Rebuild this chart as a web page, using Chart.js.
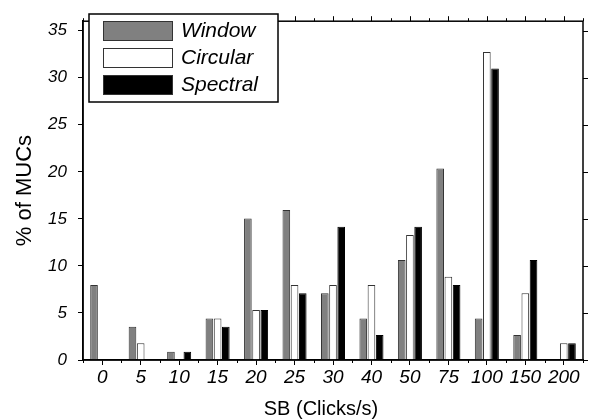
<!DOCTYPE html>
<html>
<head>
<meta charset="utf-8">
<script src="https://cdn.jsdelivr.net/npm/chart.js@4"></script>
<style>
  html, body { margin: 0; padding: 0; background: #fff; }
  #wrap { width: 594px; height: 419px; }
</style>
</head>
<body>
<div id="wrap"><canvas id="mucChart" width="594" height="419"></canvas></div>
<script>
    // SB rate categories (Clicks/s)
    const categories = ['0', '5', '10', '15', '20', '25', '30', '40', '50', '75', '100', '150', '200'];
    // % of MUCs per estimator
    const windowVals   = [7.96, 3.54, 0.88, 4.42, 15.04, 15.93, 7.08, 4.42, 10.62, 20.35, 4.42, 2.65, 0];
    const circularVals = [0, 1.77, 0, 4.42, 5.31, 7.96, 7.96, 7.96, 13.27, 8.85, 32.74, 7.08, 1.77];
    const spectralVals = [0, 0, 0.88, 3.54, 5.31, 7.08, 14.16, 2.65, 14.16, 7.96, 30.97, 10.62, 1.77];
    const yTicks = [0, 5, 10, 15, 20, 25, 30, 35];
    const xTitle = 'SB (Clicks/s)';

    const FONT = "'Liberation Sans', Arial, Helvetica, sans-serif";
    const ctx = document.getElementById('mucChart').getContext('2d');

    // draws the box frame, the top/right mirror ticks, the minor x ticks, x title and the inset legend
    const framePlugin = {
      id: 'frame',
      afterDraw(chart) {
        const c = chart.ctx;
        const a = chart.chartArea;
        const xs = chart.scales.x;
        const ys = chart.scales.y;
        const n = categories.length;
        c.save();
        c.strokeStyle = '#000';
        c.lineWidth = 1;
        c.beginPath();
        for (let i = 0; i < n; i++) {
          const px = Math.round(xs.getPixelForValue(i)) + 0.5;
          c.moveTo(px, a.top); c.lineTo(px, a.top - 5);
        }
        for (let i = 0; i <= n; i++) {
          const px = Math.round(xs.getPixelForValue(i - 0.5)) + 0.5;
          c.moveTo(px, a.top); c.lineTo(px, a.top - 3);
          c.moveTo(px, a.bottom); c.lineTo(px, a.bottom + 3);
        }
        yTicks.forEach(v => {
          const py = Math.round(ys.getPixelForValue(v)) + 0.5;
          c.moveTo(a.right, py); c.lineTo(a.right + 5, py);
        });
        c.stroke();

        c.lineWidth = 1.5;
        c.strokeRect(a.left, a.top, a.right - a.left, a.bottom - a.top);

        // x axis title, sits a little left of the plot centre
        c.fillStyle = '#000';
        c.font = '20px ' + FONT;
        c.textAlign = 'center';
        c.textBaseline = 'alphabetic';
        c.fillText(xTitle, 321, 415);

        // legend box
        const lx = 89, ly = 14, lw = 189, lh = 88;
        c.fillStyle = '#fff';
        c.fillRect(lx, ly, lw, lh);
        c.lineWidth = 1.5;
        c.strokeRect(lx, ly, lw, lh);
        chart.data.datasets.forEach((ds, i) => {
          const ry = 21 + i * 27;
          c.fillStyle = ds.backgroundColor;
          c.fillRect(103, ry, 70, 20);
          c.lineWidth = 1;
          c.strokeStyle = '#333';
          c.strokeRect(103.5, ry + 0.5, 69, 19);
          c.fillStyle = '#000';
          c.font = 'italic 21px ' + FONT;
          c.textBaseline = 'middle';
          c.textAlign = 'left';
          c.fillText(ds.label, 181, ry + 10);
        });
        c.restore();
      }
    };

    const chart = new Chart(ctx, {
      type: 'bar',
      data: {
        labels: categories,
        datasets: [
          { label: 'Window', data: windowVals, backgroundColor: '#808080', borderColor: '#333', borderWidth: 1 },
          { label: 'Circular', data: circularVals, backgroundColor: '#ffffff', borderColor: '#333', borderWidth: 1 },
          { label: 'Spectral', data: spectralVals, backgroundColor: '#000000', borderColor: '#000', borderWidth: 1 }
        ]
      },
      options: {
        responsive: false,
        animation: false,
        layout: { padding: { top: 10, right: 11, left: 0, bottom: 0 } },
        datasets: { bar: { categoryPercentage: 0.64, barPercentage: 0.93 } },
        plugins: {
          legend: { display: false },
          tooltip: { enabled: false }
        },
        scales: {
          x: {
            afterFit(s) { s.height = 59; },
            grid: { display: true, offset: false, drawOnChartArea: false, tickLength: 5, color: '#000' },
            border: { display: true, color: '#000', width: 1.5 },
            ticks: { color: '#000', padding: 1, font: { family: FONT, size: 19, style: 'italic' }, maxRotation: 0, autoSkip: false },
            title: { display: false }
          },
          y: {
            min: 0,
            max: 36,
            afterFit(s) { s.width = 83; },
            afterBuildTicks(s) { s.ticks = yTicks.map(v => ({ value: v })); },
            grid: { display: true, drawOnChartArea: false, tickLength: 5, color: '#000' },
            border: { display: true, color: '#000', width: 1.5 },
            ticks: { color: '#000', padding: 11, font: { family: FONT, size: 17, style: 'italic' } },
            title: { display: true, text: '% of MUCs', color: '#000', font: { family: FONT, size: 22 }, padding: { top: 12, bottom: 0 } }
          }
        }
      },
      plugins: [framePlugin]
    });
</script>
</body>
</html>
